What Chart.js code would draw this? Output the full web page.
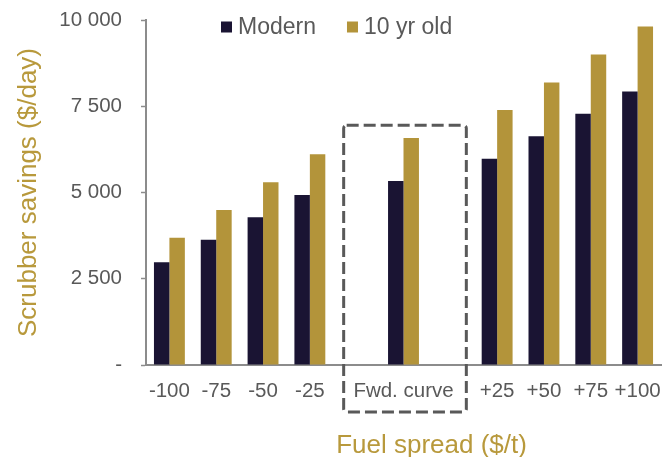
<!DOCTYPE html>
<html lang="en">
<head>
  <meta charset="UTF-8">
  <title>Scrubber savings</title>
  <script src="https://cdn.jsdelivr.net/npm/chart.js"></script>
  <style>
    body {
      margin: 0;
      padding: 0;
      background: #ffffff;
    }
    #chartContainer {
      width: 662px;
      height: 457px;
    }
  </style>
</head>
<body>
  <div id="chartContainer">
    <canvas id="savingsChart"></canvas>
  </div>
  <script>
    // Data
    const categories = ['-100', '-75', '-50', '-25', '', 'Fwd. curve', '', '+25', '+50', '+75', '+100'];
    const modern = [2980, 3630, 4280, 4930, null, 5330, null, 5980, 6630, 7280, 7930];
    const tenYrOld = [3690, 4490, 5300, 6110, null, 6580, null, 7390, 8190, 9000, 9810];
    const yTicks = [0, 2500, 5000, 7500, 10000];
    const fwdIndex = 5;
    const boxTopValue = 6950;

    const navy = '#1a1433';
    const gold = '#b3943a';
    const titleGold = '#b8993c';
    const grey = '#595959';
    const axisGrey = '#8c8c8c';
    const fontFamily = '"Liberation Sans", Arial, sans-serif';

    // legend, dashed box and x title drawn on top
    const overlay = {
      id: 'overlay',
      afterDraw(chart) {
        const ctx = chart.ctx;
        const area = chart.chartArea;
        const x = chart.scales.x;
        const y = chart.scales.y;

        // dashed box round the forward curve column
        const step = x.getPixelForValue(1) - x.getPixelForValue(0);
        const cx = x.getPixelForValue(fwdIndex) + 1.5;
        const left = cx - step * 1.31;
        const right = cx + step * 1.31;
        const top = y.getPixelForValue(boxTopValue);
        const bottom = area.bottom + 47;
        ctx.save();
        ctx.strokeStyle = grey;
        ctx.lineWidth = 3;
        ctx.setLineDash([12, 5]);
        ctx.beginPath();
        ctx.roundRect(left, top, right - left, bottom - top, 3);
        ctx.stroke();
        ctx.restore();

        // legend
        ctx.save();
        ctx.font = '23px ' + fontFamily;
        ctx.textBaseline = 'middle';
        ctx.textAlign = 'left';
        let lx = 221;
        const ly = 27;
        chart.data.datasets.forEach(ds => {
          ctx.fillStyle = ds.backgroundColor;
          ctx.fillRect(lx, ly - 5.5, 11, 11);
          ctx.fillStyle = grey;
          ctx.fillText(ds.label, lx + 17, ly + 1);
          lx += 17 + ctx.measureText(ds.label).width + 31;
        });
        ctx.restore();

        // x axis title
        ctx.save();
        ctx.font = '26px ' + fontFamily;
        ctx.fillStyle = titleGold;
        ctx.textAlign = 'center';
        ctx.textBaseline = 'middle';
        ctx.fillText('Fuel spread ($/t)', (area.left + area.right) / 2 + 28, 446);
        ctx.restore();
      }
    };

    const ctx = document.getElementById('savingsChart').getContext('2d');
    const savingsChart = new Chart(ctx, {
      type: 'bar',
      data: {
        labels: categories,
        datasets: [
          { label: 'Modern', data: modern, backgroundColor: navy, borderWidth: 0 },
          { label: '10 yr old', data: tenYrOld, backgroundColor: gold, borderWidth: 0 }
        ]
      },
      options: {
        responsive: true,
        maintainAspectRatio: false,
        animation: false,
        layout: { padding: { top: 20, right: 1, left: 0, bottom: 0 } },
        datasets: {
          bar: { categoryPercentage: 0.66, barPercentage: 1 }
        },
        plugins: {
          legend: { display: false },
          tooltip: { enabled: false }
        },
        scales: {
          x: {
            afterFit: s => { s.height = 92; s.paddingLeft = 0; s.paddingRight = 0; },
            grid: { display: true, drawOnChartArea: false, drawTicks: false },
            border: { display: true, color: axisGrey, width: 2 },
            ticks: {
              autoSkip: false,
              maxRotation: 0,
              padding: 14,
              color: grey,
              font: { family: fontFamily, size: 20.5 }
            }
          },
          y: {
            min: 0,
            max: 10000,
            afterFit: s => { s.width = 146; s.paddingTop = 0; s.paddingBottom = 0; },
            afterBuildTicks: s => { s.ticks = yTicks.map(v => ({ value: v })); },
            grid: { display: true, drawOnChartArea: false, drawTicks: true, tickLength: 5, color: axisGrey, tickWidth: 1.5 },
            border: { display: true, color: axisGrey, width: 2 },
            ticks: {
              padding: 19,
              color: grey,
              font: { family: fontFamily, size: 20.5 },
              callback: v => v === 0 ? '-' : v.toLocaleString('en-US').replace(',', ' ')
            },
            title: {
              display: true,
              text: 'Scrubber savings ($/day)',
              color: titleGold,
              padding: { top: 13, bottom: 0 },
              font: { family: fontFamily, size: 26 }
            }
          }
        }
      },
      plugins: [overlay]
    });
  </script>
</body>
</html>
